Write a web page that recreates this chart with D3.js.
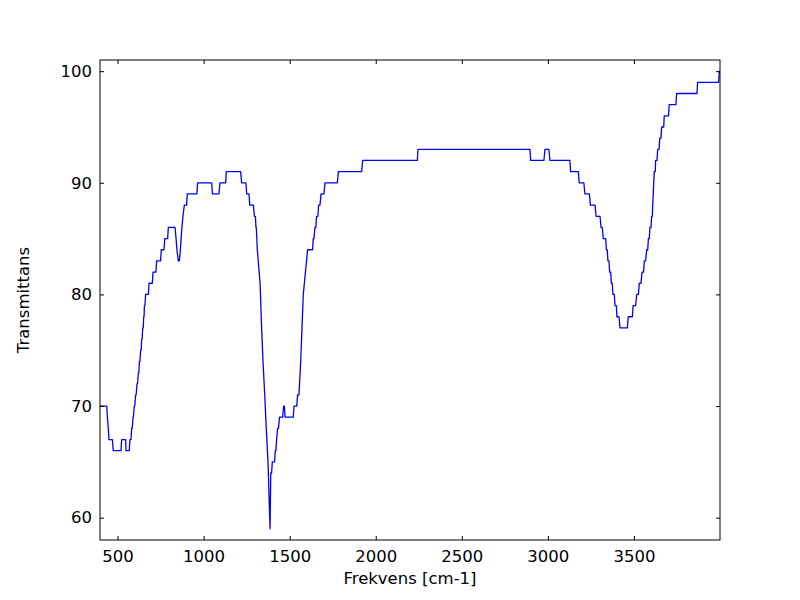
<!DOCTYPE html>
<html><head><meta charset="utf-8">
<script src="https://cdn.jsdelivr.net/npm/d3@7"></script>
<style>body{margin:0;background:#fff}svg{display:block}text{font-family:"DejaVu Sans",sans-serif}</style>
</head><body><svg id="c" width="800" height="600"></svg>
<script>
const wavenumber = [398,437,441,446,450,470,475,520,524,547,549,568,572,578,582,585,590,592,597,600,605,608,613,616,621,624,627,630,634,637,640,643,646,649,652,654,656,659,663,679,683,702,706,723,727,750,754,770,774,791,795,834,840,845,853,859,865,869,874,880,888,901,905,961,965,1047,1051,1089,1095,1128,1132,1215,1221,1246,1250,1264,1268,1289,1295,1301,1304,1306,1312,1328,1337,1345,1355,1364,1374,1380,1386,1390,1395,1399,1412,1416,1420,1424,1430,1435,1441,1459,1465,1469,1473,1521,1525,1541,1546,1554,1564,1579,1598,1604,1633,1637,1641,1647,1652,1656,1664,1668,1676,1682,1699,1705,1777,1783,1918,1924,2242,2245,2896,2900,2977,2983,3006,3012,3128,3132,3177,3182,3209,3215,3241,3247,3274,3280,3303,3309,3316,3322,3336,3340,3345,3349,3355,3359,3365,3369,3374,3378,3386,3390,3398,3401,3413,3419,3462,3467,3491,3495,3510,3516,3526,3531,3541,3547,3556,3560,3568,3574,3580,3584,3589,3593,3599,3603,3607,3609,3612,3615,3618,3624,3626,3634,3638,3646,3650,3657,3661,3673,3676,3701,3705,3744,3748,3866,3870,3992,3996,4000];
const transmittance = [70,70,69,68,67,67,66,66,67,67,66,66,67,67,68,68,69,69,70,70,71,71,72,72,73,73,74,74,75,75,76,76,77,77,78,78,79,79,80,80,81,81,82,82,83,83,84,84,85,85,86,86,85,84,83,83,84,85,86,87,88,88,89,89,90,90,89,89,90,90,91,91,90,90,89,89,88,88,87,87,86,86,84,81,77,74,71,68,65,62,59,64,64,65,65,66,66,67,68,68,69,69,70,70,69,69,70,70,71,71,74,80,83,84,84,85,85,86,86,87,87,88,88,89,89,90,90,91,91,92,92,93,93,92,92,93,93,92,92,91,91,90,90,89,89,88,88,87,87,86,86,85,85,84,84,83,83,82,82,81,81,80,80,79,79,78,78,77,77,78,78,79,79,80,80,81,81,82,82,83,83,84,84,85,85,86,86,87,87,88,89,90,91,91,92,92,93,93,94,94,95,95,96,96,97,97,98,98,99,99,100,100];
const xTicks = [500,1000,1500,2000,2500,3000,3500];
const yTicks = [60,70,80,90,100];
const xLabel = "Frekvens [cm-1]";
const yLabel = "Transmittans";

const svg = d3.select("#c");
const L=100,R=720,T=60,B=540;
const x = d3.scaleLinear().domain([398,4000]).range([L,R]);
const y = d3.scaleLinear().domain([58,101]).range([B,T]);

const data = wavenumber.map((w,i)=>[w,transmittance[i]]);
svg.append("path").datum(data)
  .attr("fill","none").attr("stroke","#0000ff").attr("stroke-width",1.3)
  .attr("stroke-linejoin","round")
  .attr("d", d3.line().x(d=>x(d[0])).y(d=>y(d[1])));

const fs = 16.5;
const fmt = d3.format("d");
const gb = svg.append("g").attr("transform",`translate(0,${B})`)
  .call(d3.axisBottom(x).tickValues(xTicks).tickFormat(fmt).tickSizeInner(-4).tickSizeOuter(0).tickPadding(10));
const gt = svg.append("g").attr("transform",`translate(0,${T})`)
  .call(d3.axisTop(x).tickValues(xTicks).tickSizeInner(-4).tickSizeOuter(0).tickFormat(""));
const gl = svg.append("g").attr("transform",`translate(${L},0)`)
  .call(d3.axisLeft(y).tickValues(yTicks).tickFormat(fmt).tickSizeInner(-4).tickSizeOuter(0).tickPadding(8));
const gr = svg.append("g").attr("transform",`translate(${R},0)`)
  .call(d3.axisRight(y).tickValues(yTicks).tickSizeInner(-4).tickSizeOuter(0).tickFormat(""));
[gb,gt,gl,gr].forEach(g=>{
  g.select(".domain").remove();
  g.selectAll("line").attr("stroke","#000");
  g.selectAll("text").attr("font-size",fs).attr("fill","#000").attr("font-family","DejaVu Sans");
});
gb.selectAll("text").attr("dy","0.71em");
svg.append("rect").attr("x",L).attr("y",T).attr("width",R-L).attr("height",B-T)
  .attr("fill","none").attr("stroke","#000").attr("stroke-width",1);

svg.append("text").attr("x",(L+R)/2).attr("y",584).attr("text-anchor","middle")
  .attr("font-size",fs).text(xLabel);
svg.append("text").attr("transform",`translate(29,${(T+B)/2}) rotate(-90)`)
  .attr("text-anchor","middle").attr("font-size",fs).text(yLabel);
</script></body></html>
